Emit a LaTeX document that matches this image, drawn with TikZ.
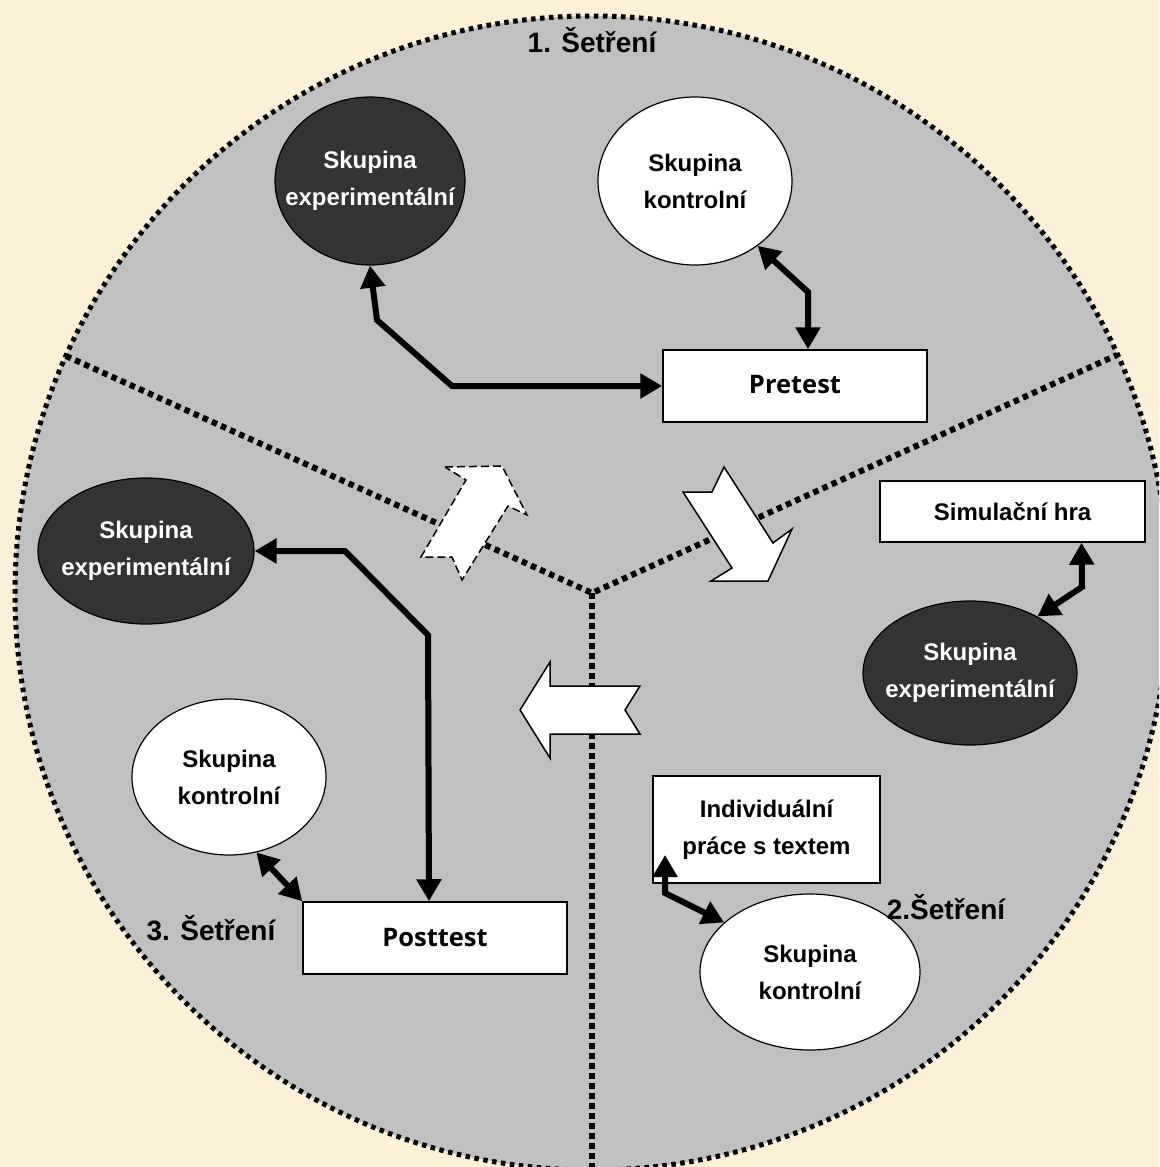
\documentclass[tikz,border=0pt]{standalone}
\usepackage{fontspec}
\setmainfont{Liberation Sans}
\newfontfamily\osans{Open Sans}
\usetikzlibrary{shapes.geometric,arrows.meta,calc}
\definecolor{bgc}{RGB}{252,241,214}
\definecolor{disk}{RGB}{192,192,192}
\definecolor{darkel}{RGB}{51,51,51}
\begin{document}
\begin{tikzpicture}[x=1pt,y=-1pt,
  lbl/.style={font=\fontsize{24}{37}\selectfont\bfseries, align=center},
  darkell/.style={ellipse, draw=black, line width=1.2pt, fill=darkel, text=white, inner xsep=-40pt, inner ysep=0pt, lbl},
  whiteell/.style={ellipse, draw=black, line width=1.2pt, fill=white, inner sep=0pt, lbl},
  rectbox/.style={rectangle, draw=black, line width=1.5pt, fill=white, inner sep=0pt},
  testfont/.style={font=\osans\fontsize{25.5}{30}\selectfont\bfseries},
  conn/.style={line width=6pt, {Triangle[length=22pt,width=24pt]}-{Triangle[length=22pt,width=24pt]}, line join=miter},
  divider/.style={line width=6pt, dash pattern=on 5.5pt off 4.5pt},
  blockarrow/.style={fill=white, draw=black, line width=1.5pt, line join=miter},
  phase/.style={font=\fontsize{28}{30}\selectfont\bfseries}
]
\useasboundingbox (0,0) rectangle (1159,1167);
\fill[bgc] (0,0) rectangle (1159,1167);
\coordinate (c) at (592,593);
\coordinate (b1) at (66,356);
\coordinate (b2) at (1117,355);
\coordinate (b3) at (592,1172);
\begin{scope}
  \clip (0,0) rectangle (1159,1167);
  \fill[disk] (c) circle (577pt);
  \draw[line width=5pt, dash pattern=on 4.5pt off 4.5pt] (c) circle (577pt);
  \draw[divider] (b1) -- (c) -- (b2);
  \draw[divider] (c) -- (b3);
\end{scope}

% block arrows
\draw[blockarrow, dash pattern=on 8pt off 4pt] (445,467) -- (502,466) -- (527,515) -- (508,506) -- (462,580) -- (452,557) -- (421,557) -- (466,480) -- cycle;
\draw[blockarrow] (683,492) -- (712,492) -- (724,467) -- (773,543) -- (792,529) -- (768,581) -- (711,581) -- (732,568) -- cycle;
\draw[blockarrow] (520,710) -- (550,662) -- (550,686) -- (640,686) -- (625,710) -- (640,734) -- (550,734) -- (550,758) -- cycle;

% phase 1
\node[darkell, minimum width=190pt, minimum height=168pt] (exp1) at (370,181) {Skupina\\experimentální};
\node[whiteell, minimum width=194pt, minimum height=168pt] (kon1) at (695,181) {Skupina\\kontrolní};
\node[rectbox, testfont, minimum width=264pt, minimum height=72pt] (pre) at (795,386) {\raisebox{4pt}{Pretest}};
\node[phase] (l1) at (592,40) {1. Šetření};
\draw[conn] (pre.west) -- (452,386) -- (377,320) -- (exp1.south);
\draw[conn] ($(pre.north)+(13,0)$) -- (808,292) -- (kon1.-46);

% phase 2
\node[rectbox, lbl, minimum width=265pt, minimum height=61pt] (sim) at (1012.5,511.5) {Simulační hra};
\node[darkell, minimum width=214pt, minimum height=144pt] (exp2) at (970,673) {Skupina\\experimentální};
\node[rectbox, lbl, minimum width=227pt, minimum height=107pt] (ind) at (766.5,829.5) {Individuální\\práce s textem};
\node[whiteell, minimum width=220pt, minimum height=156pt] (kon2) at (810,972) {Skupina\\kontrolní};
\node[phase] (l2) at (946,907) {2.Šetření};
\draw[conn] ($(sim.south)+(69,0)$) -- (1082,587) -- (exp2.40);
\draw[conn] (665,855) -- (665,893) -- (kon2.150);

% phase 3
\node[darkell, minimum width=216pt, minimum height=146pt] (exp3) at (146,551) {Skupina\\experimentální};
\node[whiteell, minimum width=194pt, minimum height=156pt] (kon3) at (229,777) {Skupina\\kontrolní};
\node[rectbox, testfont, minimum width=264pt, minimum height=72pt] (post) at (435,938) {Posttest};
\node[phase] (l3) at (211,928) {3. Šetření};
\draw[conn] (exp3.east) -- (345,551) -- (428,635) -- ($(post.north)+(-6,0)$);
\draw[conn] (kon3.-70) -- (post.north west);
\end{tikzpicture}
\end{document}
